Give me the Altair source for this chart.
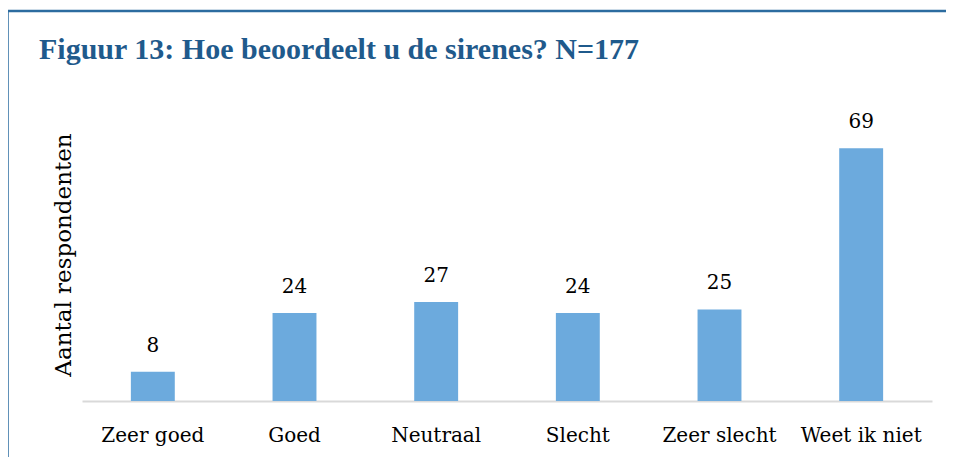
import altair as alt
import pandas as pd

categories = ["Zeer goed", "Goed", "Neutraal", "Slecht", "Zeer slecht", "Weet ik niet"]
counts = [8, 24, 27, 24, 25, 69]
title_text = "Figuur 13: Hoe beoordeelt u de sirenes? N=177"
y_title = "Aantal respondenten"

df = pd.DataFrame({"categorie": categories, "aantal": counts})
one = pd.DataFrame({"t": [title_text]})

BORDER = "#2C6CA0"
BAR = "#6CAADD"

x_enc = alt.X(
    "categorie:N",
    sort=categories,
    title=None,
    scale=alt.Scale(paddingInner=0.69, paddingOuter=0.345),
    axis=alt.Axis(
        labelAngle=0,
        labelFont="DejaVu Serif",
        labelFontSize=20,
        labelColor="#000000",
        labelPadding=24,
        ticks=False,
        domainColor="#D9D9D9",
        domainWidth=2,
        grid=False,
    ),
)
y_enc = alt.Y(
    "aantal:Q",
    scale=alt.Scale(domain=[0, 80]),
    axis=alt.Axis(
        title=y_title,
        labels=False,
        ticks=False,
        domain=False,
        grid=False,
        titleFont="DejaVu Serif",
        titleFontSize=23,
        titleFontWeight="normal",
        titleColor="#000000",
        titlePadding=7,
    ),
)

bars = alt.Chart(df).mark_bar(color=BAR).encode(x=x_enc, y=y_enc)
labels = alt.Chart(df).mark_text(
    font="DejaVu Serif", fontSize=20, color="#000000", baseline="alphabetic", dy=-20
).encode(x=alt.X("categorie:N", sort=categories), y="aantal:Q", text="aantal:Q")

title = alt.Chart(one).mark_text(
    font="Liberation Serif", fontSize=30, fontWeight="bold", color="#1F5A8C",
    align="left", baseline="alphabetic",
).encode(x=alt.value(-43), y=alt.value(-48.7), text="t:N")

border_left = alt.Chart(one).mark_rule(color=BORDER, strokeWidth=2.5).encode(
    x=alt.value(-74.5), y=alt.value(-97), y2=alt.value(349))
border_top = alt.Chart(one).mark_rule(color=BORDER, strokeWidth=2.5).encode(
    x=alt.value(-74.5), x2=alt.value(864), y=alt.value(-97))

chart = alt.layer(bars, labels, title, border_left, border_top).properties(
    width=850,
    height=293,
    background="white",
    autosize=alt.AutoSizeParams(type="none"),
    padding={"left": 74, "top": 100, "right": 14, "bottom": 56},
).configure_view(strokeWidth=0)

chart.save("out.html", embed_options={"renderer": "svg", "actions": False})
